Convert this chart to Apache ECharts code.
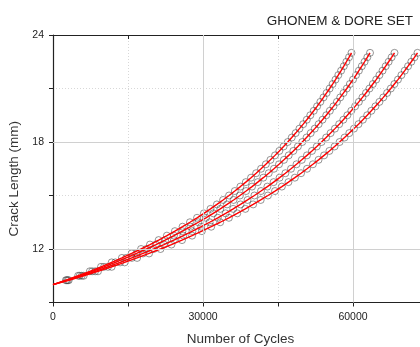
<!DOCTYPE html>
<html>
<head>
<meta charset="utf-8">
<script src="https://cdn.jsdelivr.net/npm/echarts@6/dist/echarts.min.js"></script>
<style>html,body{margin:0;padding:0;background:#fff;overflow:hidden;}#c{width:420px;height:347px;}</style>
</head>
<body>
<div id="c"></div>
<script>
// Crack length (mm) readings, shared by all four specimens
const crackLength = [10.00,10.25,10.50,10.75,11.00,11.25,11.50,11.75,12.00,12.25,12.50,12.75,13.00,13.25,13.50,13.75,14.00,14.25,14.50,14.75,15.00,15.25,15.50,15.75,16.00,16.25,16.50,16.75,17.00,17.25,17.50,17.75,18.00,18.25,18.50,18.75,19.00,19.25,19.50,19.75,20.00,20.25,20.50,20.75,21.00,21.25,21.50,21.75,22.00,22.25,22.50,22.75,23.00];
// Number of cycles at each crack length, per specimen
const cycles1 = [0,2580,5030,7370,9600,11740,13780,15730,17610,19400,21130,22780,24380,25910,27390,28810,30180,31500,32780,34020,35210,36360,37480,38560,39610,40630,41610,42570,43490,44400,45270,46120,46950,47750,48530,49290,50040,50760,51460,52150,52820,53470,54100,54720,55330,55920,56500,57060,57620,58160,58680,59200,59700];
const cycles2 = [0,2740,5340,7830,10200,12460,14630,16710,18700,20600,22430,24190,25890,27510,29080,30590,32050,33460,34810,36120,37390,38620,39800,40950,42060,43140,44190,45200,46190,47140,48070,48980,49850,50710,51540,52350,53130,53900,54650,55370,56090,56780,57450,58110,58760,59380,60000,60600,61180,61760,62320,62860,63400];
const cycles3 = [0,2950,5750,8430,10990,13430,15760,18000,20140,22190,24170,26060,27890,29640,31330,32960,34530,36040,37500,38910,40280,41600,42880,44120,45320,46480,47600,48700,49760,50790,51790,52760,53710,54630,55520,56390,57240,58070,58870,59660,60420,61170,61890,62600,63300,63970,64640,65280,65910,66530,67130,67720,68300];
const cycles4 = [0,3150,6140,9000,11730,14330,16820,19210,21500,23690,25800,27820,29770,31640,33440,35180,36850,38470,40030,41540,42990,44400,45770,47090,48370,49610,50810,51980,53110,54210,55280,56320,57320,58310,59260,60190,61100,61980,62840,63670,64490,65290,66060,66820,67560,68280,68990,69680,70350,71010,71660,72290,72900];
const xTickLabels = [0, 30000, 60000];
const yTickLabels = [12, 18, 24];
const xMajorGrid = [30000, 60000];
const yMajorGrid = [12, 18];

const FONT = 'Liberation Sans, Arial, sans-serif';
const allCycles = [cycles1, cycles2, cycles3, cycles4];

const series = [];
allCycles.forEach((cyc) => {
  series.push({
    type: 'scatter',
    data: cyc.map((n, j) => [n, crackLength[j]]).slice(1),
    symbol: 'circle',
    symbolSize: 7,
    itemStyle: { color: 'rgba(255,255,255,0)', borderColor: 'rgba(60,60,60,0.75)', borderWidth: 0.9 },
    z: 3,
    silent: true
  });
});
allCycles.forEach((cyc) => {
  series.push({
    type: 'line',
    data: cyc.map((n, j) => [n, crackLength[j]]),
    showSymbol: false,
    lineStyle: { color: '#ff0000', width: 1.4 },
    z: 4,
    silent: true
  });
});
// solid major grid lines
series.push({
  type: 'line',
  data: [],
  z: 1,
  markLine: {
    silent: true,
    symbol: ['none', 'none'],
    label: { show: false },
    animation: false,
    lineStyle: { color: '#d0d0d0', type: 'solid', width: 1 },
    data: xMajorGrid.map(v => ({ xAxis: v })).concat(yMajorGrid.map(v => ({ yAxis: v })))
  }
});

const chart = echarts.init(document.getElementById('c'), null, { renderer: 'canvas' });
chart.setOption({
  animation: false,
  backgroundColor: '#fff',
  title: {
    text: 'GHONEM & DORE SET',
    right: 2, top: 9,
    textStyle: { fontFamily: FONT, fontSize: 13.5, fontWeight: 'normal', color: '#222' }
  },
  grid: { left: 53, top: 35, width: 375, height: 267.5, containLabel: false, outerBoundsMode: 'none' },
  xAxis: [{
    type: 'value', min: 0, max: 75000, interval: 15000,
    name: 'Number of Cycles', nameLocation: 'middle', nameGap: 30,
    nameTextStyle: { fontFamily: FONT, fontSize: 13.5, color: '#333' },
    axisLine: { show: true, lineStyle: { color: '#222', width: 1.2 } },
    axisTick: { show: true, inside: false, length: 4, lineStyle: { color: '#222' } },
    axisLabel: {
      margin: 9, fontFamily: FONT, fontSize: 10.5, color: '#222',
      formatter: v => xTickLabels.indexOf(v) >= 0 ? String(v) : ''
    },
    splitLine: { show: true, lineStyle: { color: '#d8d8d8', type: [1, 2], width: 1 } }
  }, {
    type: 'value', min: 0, max: 75000, interval: 15000, position: 'top',
    axisLine: { show: true, lineStyle: { color: '#222', width: 1.2 } },
    axisTick: { show: true, inside: true, length: 4, lineStyle: { color: '#222' } },
    axisLabel: { show: false },
    splitLine: { show: false }
  }],
  yAxis: {
    type: 'value', min: 9, max: 24, interval: 3,
    name: 'Crack Length (mm)', nameLocation: 'middle', nameGap: 28,
    nameTextStyle: { fontFamily: FONT, fontSize: 13.5, color: '#333', padding: [0, 20, 0, 0] },
    axisLine: { show: true, lineStyle: { color: '#222', width: 1.2 } },
    axisTick: { show: true, inside: false, length: 4, lineStyle: { color: '#222' } },
    axisLabel: {
      margin: 9, fontFamily: FONT, fontSize: 10.5, color: '#222',
      formatter: v => yTickLabels.indexOf(v) >= 0 ? String(v) : ''
    },
    splitLine: { show: true, lineStyle: { color: '#d8d8d8', type: [1, 2], width: 1 } }
  },
  series: series
});
</script>
</body>
</html>
